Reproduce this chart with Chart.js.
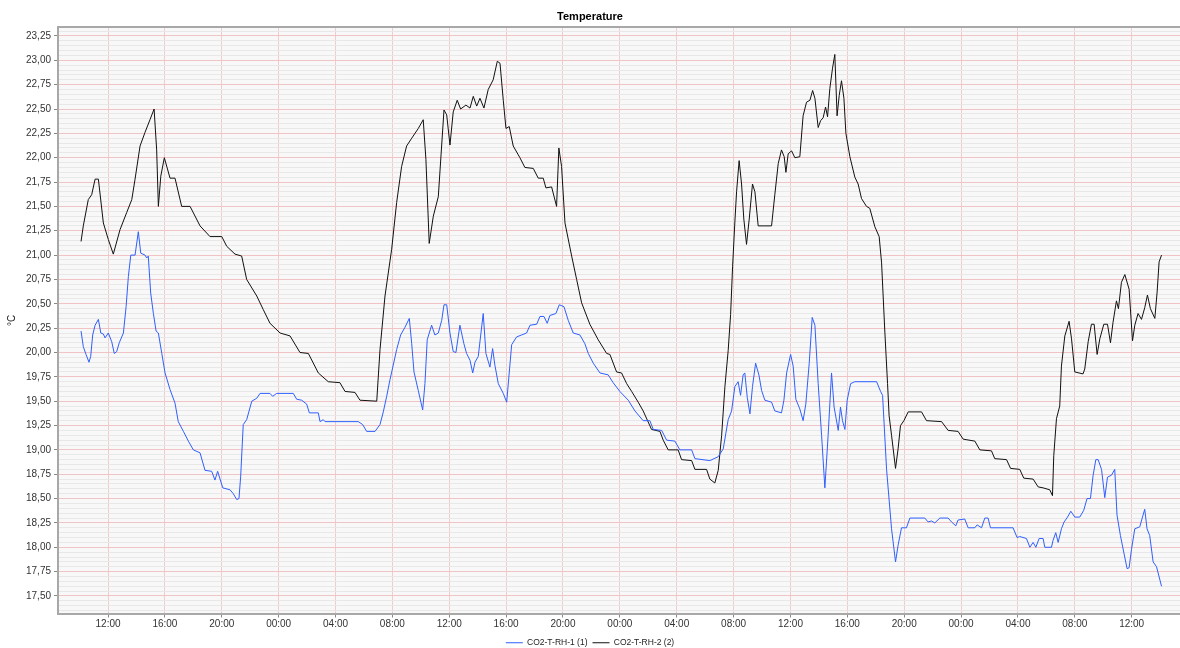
<!DOCTYPE html>
<html>
<head>
<meta charset="utf-8">
<script src="https://cdn.jsdelivr.net/npm/chart.js@4.4.0/dist/chart.umd.min.js"></script>
<style>
  html, body { margin: 0; padding: 0; background: #fff; }
  canvas { display: block; }
</style>
</head>
<body>
<canvas id="grafico" width="1180" height="648"></canvas>
<script>
// horas contadas a partir de 00:00 do primeiro dia
const horas1 = [10.10, 10.26, 10.45, 10.66, 10.78, 10.92, 11.09, 11.32, 11.49, 11.67,
  11.79, 12.02, 12.26, 12.44, 12.61, 12.79, 13.08, 13.27, 13.43, 13.60,
  13.90, 14.13, 14.30, 14.60, 14.72, 14.83, 15.00, 15.19, 15.38, 15.54,
  15.78, 16.01, 16.36, 16.71, 16.94, 17.30, 17.65, 18.00, 18.47, 18.82,
  19.29, 19.52, 19.71, 20.07, 20.58, 20.81, 21.05, 21.21, 21.33, 21.51,
  21.75, 22.11, 22.46, 22.69, 23.39, 23.58, 23.86, 25.03, 25.27, 25.62,
  25.97, 26.16, 26.79, 26.91, 27.14, 27.26, 29.02, 29.60, 29.91, 30.19,
  30.78, 31.13, 31.36, 31.60, 31.83, 32.06, 32.30, 32.58, 32.89, 33.19,
  33.36, 33.52, 33.82, 34.13, 34.29, 34.45, 34.76, 34.99, 35.23, 35.47,
  35.63, 35.82, 36.05, 36.28, 36.47, 36.75, 37.03, 37.22, 37.46, 37.65,
  37.81, 38.04, 38.23, 38.39, 38.58, 38.86, 39.05, 39.21, 39.45, 39.80,
  40.04, 40.39, 40.74, 41.09, 41.44, 41.68, 42.15, 42.38, 42.66, 42.89,
  43.08, 43.50, 43.74, 44.07, 44.37, 44.72, 45.19, 45.54, 45.78, 46.13,
  46.60, 47.18, 47.53, 48.00, 48.59, 49.06, 49.64, 50.11, 50.35, 50.94,
  51.29, 51.87, 52.22, 53.05, 53.28, 54.33, 54.92, 55.27, 55.62, 55.86,
  56.09, 56.32, 56.49, 56.67, 56.79, 56.96, 57.15, 57.33, 57.55, 57.78,
  57.97, 58.20, 58.67, 58.90, 59.37, 59.54, 59.73, 60.01, 60.19, 60.38,
  60.66, 60.89, 61.08, 61.32, 61.53, 61.72, 61.95, 62.19, 62.42, 62.65,
  62.89, 63.07, 63.36, 63.52, 63.66, 63.83, 63.99, 64.23, 64.53, 66.06,
  66.34, 66.48, 66.76, 67.11, 67.39, 67.57, 67.81, 68.16, 68.40, 69.45,
  69.68, 69.92, 70.15, 70.51, 71.09, 71.33, 71.63, 71.79, 72.26, 72.50,
  72.97, 73.13, 73.44, 73.67, 73.90, 74.07, 75.66, 75.94, 76.13, 76.60,
  76.84, 77.07, 77.26, 77.49, 77.77, 77.89, 78.36, 78.47, 78.66, 78.83,
  79.06, 79.25, 79.49, 79.72, 80.00, 80.35, 80.63, 80.86, 81.10, 81.29,
  81.48, 81.64, 81.88, 82.11, 82.30, 82.58, 82.81, 82.97, 83.21, 83.47,
  83.68, 83.82, 83.99, 84.22, 84.57, 84.80, 84.92, 85.08, 85.27, 85.51,
  85.75, 86.10];
const temp1 = [20.22, 20.06, 19.98, 19.90, 19.96, 20.18, 20.28, 20.34, 20.20, 20.19,
  20.15, 20.20, 20.11, 19.99, 20.01, 20.10, 20.20, 20.47, 20.78, 21.00,
  21.00, 21.24, 21.02, 21.00, 20.97, 20.99, 20.61, 20.40, 20.22, 20.20,
  19.99, 19.79, 19.62, 19.48, 19.29, 19.19, 19.09, 19.00, 18.97, 18.79,
  18.78, 18.69, 18.78, 18.61, 18.59, 18.55, 18.49, 18.50, 18.73, 19.26,
  19.31, 19.50, 19.53, 19.58, 19.58, 19.55, 19.58, 19.58, 19.52, 19.51,
  19.47, 19.38, 19.38, 19.29, 19.31, 19.29, 19.29, 19.29, 19.26, 19.19,
  19.19, 19.26, 19.39, 19.55, 19.72, 19.87, 20.03, 20.18, 20.26, 20.35,
  20.09, 19.80, 19.61, 19.41, 19.68, 20.13, 20.28, 20.18, 20.20, 20.33,
  20.49, 20.49, 20.20, 20.01, 20.00, 20.28, 20.09, 19.99, 19.92, 19.79,
  19.90, 19.96, 20.20, 20.40, 19.99, 19.85, 20.04, 19.87, 19.68, 19.58,
  19.49, 20.08, 20.16, 20.18, 20.20, 20.28, 20.29, 20.37, 20.37, 20.30,
  20.38, 20.40, 20.49, 20.47, 20.33, 20.20, 20.18, 20.09, 19.99, 19.89,
  19.79, 19.77, 19.69, 19.60, 19.51, 19.40, 19.30, 19.30, 19.21, 19.20,
  19.10, 19.09, 19.00, 19.00, 18.91, 18.89, 18.93, 19.01, 19.31, 19.40,
  19.65, 19.70, 19.56, 19.77, 19.79, 19.54, 19.37, 19.65, 19.89, 19.77,
  19.61, 19.51, 19.49, 19.40, 19.38, 19.51, 19.79, 19.98, 19.86, 19.52,
  19.42, 19.30, 19.47, 19.89, 20.36, 20.28, 19.68, 19.15, 18.61, 19.15,
  19.79, 19.44, 19.20, 19.44, 19.30, 19.21, 19.51, 19.68, 19.70, 19.70,
  19.60, 19.56, 18.80, 18.19, 17.85, 18.02, 18.20, 18.20, 18.30, 18.30,
  18.26, 18.27, 18.25, 18.30, 18.30, 18.26, 18.22, 18.28, 18.29, 18.20,
  18.20, 18.23, 18.20, 18.30, 18.30, 18.20, 18.20, 18.10, 18.11, 18.09,
  18.00, 18.05, 18.00, 18.09, 18.09, 18.00, 18.00, 18.07, 18.15, 18.05,
  18.19, 18.26, 18.31, 18.37, 18.31, 18.31, 18.38, 18.50, 18.50, 18.74,
  18.90, 18.90, 18.80, 18.51, 18.72, 18.74, 18.80, 18.33, 18.12, 17.93,
  17.78, 17.79, 17.98, 18.19, 18.21, 18.33, 18.39, 18.19, 18.12, 17.85,
  17.80, 17.60];

const horas2 = [10.10, 10.26, 10.61, 10.85, 11.09, 11.32, 11.67, 12.02, 12.37, 12.84,
  13.32, 13.67, 13.90, 14.25, 14.60, 14.95, 15.24, 15.42, 15.54, 15.71,
  15.96, 16.36, 16.71, 17.18, 17.77, 18.47, 19.17, 20.00, 20.35, 20.93,
  21.40, 21.75, 22.46, 22.92, 23.39, 24.10, 24.80, 25.50, 26.09, 26.79,
  27.49, 28.31, 28.67, 29.37, 29.72, 30.90, 31.13, 31.48, 31.95, 32.30,
  32.65, 33.00, 33.36, 33.82, 34.17, 34.36, 34.59, 34.88, 35.23, 35.63,
  35.82, 36.05, 36.28, 36.56, 36.80, 37.17, 37.46, 37.69, 37.93, 38.16,
  38.44, 38.74, 39.09, 39.38, 39.57, 39.80, 39.99, 40.22, 40.50, 40.97,
  41.32, 41.91, 42.26, 42.61, 42.80, 43.20, 43.55, 43.71, 43.90, 44.14,
  44.61, 44.96, 45.31, 45.89, 46.48, 47.07, 47.30, 47.77, 48.12, 48.48,
  48.83, 49.29, 49.64, 50.23, 50.82, 51.05, 51.40, 52.10, 52.34, 53.05,
  53.28, 54.10, 54.33, 54.68, 54.92, 55.16, 55.39, 55.62, 55.79, 55.93,
  56.09, 56.21, 56.39, 56.56, 56.72, 56.91, 57.10, 57.33, 57.50, 57.73,
  58.08, 58.67, 58.90, 59.14, 59.37, 59.56, 59.68, 59.84, 60.08, 60.31,
  60.66, 60.89, 61.13, 61.37, 61.56, 61.72, 61.95, 62.12, 62.30, 62.47,
  62.61, 62.77, 62.96, 63.12, 63.28, 63.43, 63.59, 63.76, 63.90, 64.18,
  64.53, 64.76, 65.00, 65.35, 65.58, 65.94, 66.24, 66.41, 66.64, 66.83,
  66.94, 67.11, 67.39, 67.57, 67.74, 67.98, 68.28, 69.22, 69.57, 70.63,
  71.09, 71.79, 72.15, 72.97, 73.32, 74.14, 74.37, 75.20, 75.48, 76.13,
  76.41, 77.07, 77.42, 77.77, 78.24, 78.43, 78.52, 78.71, 78.94, 79.06,
  79.30, 79.60, 79.77, 80.00, 80.58, 80.70, 80.94, 81.17, 81.36, 81.57,
  81.76, 82.04, 82.30, 82.51, 82.69, 82.93, 83.07, 83.28, 83.52, 83.82,
  84.06, 84.22, 84.45, 84.69, 84.92, 85.11, 85.32, 85.63, 85.79, 85.93,
  86.10];
const temp2 = [21.14, 21.30, 21.57, 21.62, 21.78, 21.78, 21.33, 21.16, 21.01, 21.26,
  21.44, 21.57, 21.78, 22.12, 22.26, 22.39, 22.50, 22.08, 21.50, 21.81,
  22.00, 21.79, 21.79, 21.50, 21.50, 21.30, 21.19, 21.19, 21.09, 21.01,
  20.99, 20.75, 20.58, 20.44, 20.30, 20.20, 20.17, 20.00, 19.99, 19.79,
  19.70, 19.69, 19.60, 19.59, 19.51, 19.50, 20.03, 20.58, 21.06, 21.54,
  21.91, 22.12, 22.20, 22.30, 22.39, 21.98, 21.12, 21.40, 21.60, 22.49,
  22.44, 22.13, 22.47, 22.59, 22.50, 22.54, 22.51, 22.63, 22.53, 22.61,
  22.51, 22.70, 22.80, 22.99, 22.97, 22.59, 22.30, 22.32, 22.12, 22.00,
  21.90, 21.89, 21.79, 21.79, 21.69, 21.70, 21.50, 22.10, 21.91, 21.33,
  20.99, 20.75, 20.51, 20.29, 20.13, 19.99, 19.98, 19.80, 19.79, 19.68,
  19.60, 19.49, 19.40, 19.21, 19.19, 19.10, 19.00, 19.00, 18.90, 18.89,
  18.80, 18.80, 18.70, 18.66, 18.79, 19.15, 19.65, 20.02, 20.39, 20.88,
  21.34, 21.65, 21.97, 21.73, 21.37, 21.11, 21.37, 21.73, 21.65, 21.30,
  21.30, 21.30, 21.62, 21.94, 22.08, 22.01, 21.85, 22.04, 22.07, 22.00,
  22.01, 22.43, 22.57, 22.59, 22.69, 22.61, 22.31, 22.38, 22.41, 22.52,
  22.42, 22.71, 22.92, 23.06, 22.43, 22.64, 22.79, 22.61, 22.25, 22.01,
  21.80, 21.73, 21.58, 21.50, 21.48, 21.29, 21.19, 20.92, 20.21, 19.68,
  19.35, 19.15, 18.81, 19.01, 19.25, 19.30, 19.39, 19.39, 19.30, 19.29,
  19.20, 19.19, 19.11, 19.09, 19.00, 18.99, 18.91, 18.90, 18.81, 18.80,
  18.71, 18.70, 18.62, 18.61, 18.59, 18.53, 18.94, 19.32, 19.45, 19.86,
  20.17, 20.32, 20.14, 19.80, 19.78, 19.83, 20.11, 20.29, 20.29, 19.98,
  20.14, 20.29, 20.29, 20.10, 20.31, 20.53, 20.45, 20.72, 20.80, 20.65,
  20.12, 20.28, 20.40, 20.34, 20.46, 20.59, 20.45, 20.35, 20.62, 20.93,
  21.00];

const rotulos = ['CO2-T-RH-1 (1)', 'CO2-T-RH-2 (2)'];

const pontos = (hs, ts) => hs.map((h, i) => ({ x: h, y: ts[i] }));

// fundo cinza claro da area do grafico
const fundo = {
  id: 'fundo',
  beforeDraw(chart) {
    const { ctx, chartArea: a } = chart;
    ctx.save();
    ctx.fillStyle = '#f8f8f8';
    ctx.fillRect(a.left, a.top, a.right - a.left, a.bottom - a.top);
    ctx.restore();
  }
};

const fonte = { family: '"Liberation Sans", Arial, sans-serif', size: 10 };

const grafico = document.getElementById('grafico').getContext('2d');

const myChart = new Chart(grafico, {
  type: 'line',
  data: {
    datasets: [{
      label: rotulos[0],
      data: pontos(horas1, temp1),
      borderColor: '#2f5fff',
      backgroundColor: '#2f5fff',
      borderWidth: 1,
      pointRadius: 0,
      tension: 0
    }, {
      label: rotulos[1],
      data: pontos(horas2, temp2),
      borderColor: '#111111',
      backgroundColor: '#111111',
      borderWidth: 1,
      pointRadius: 0,
      tension: 0
    }]
  },
  options: {
    responsive: false,
    animation: false,
    devicePixelRatio: 1,
    layout: { padding: { top: 0, left: 0, right: 0, bottom: -9 } },
    plugins: {
      title: {
        display: true,
        text: 'Temperature',
        color: '#000',
        font: { family: fonte.family, size: 11, weight: 'bold' },
        padding: { top: 10, bottom: 4 }
      },
      legend: {
        position: 'bottom',
        labels: {
          usePointStyle: true,
          pointStyle: 'line',
          pointStyleWidth: 17,
          padding: 5,
          color: '#222',
          font: { family: fonte.family, size: 8.5 }
        }
      },
      tooltip: { enabled: false }
    },
    scales: {
      x: {
        type: 'linear',
        min: 8.48,
        max: 87.4,
        ticks: {
          stepSize: 4,
          includeBounds: false,
          autoSkip: false,
          maxRotation: 0,
          padding: 1,
          color: '#333',
          font: fonte,
          callback: v => String(v % 24).padStart(2, '0') + ':00'
        },
        grid: { color: '#f0cccc', tickColor: '#888', tickLength: 4 },
        border: { color: '#a8a8a8', width: 2 },
        afterFit: s => { s.height = 20; }
      },
      xTopo: {
        type: 'linear',
        position: 'top',
        min: 8.48,
        max: 87.4,
        ticks: { display: false },
        grid: { display: false },
        border: { color: '#a8a8a8', width: 2 },
        afterFit: s => { s.height = 0; }
      },
      yMenor: {
        position: 'left',
        min: 17.32,
        max: 23.34,
        z: -1,
        ticks: { display: false, stepSize: 0.05, includeBounds: false },
        grid: { color: '#e8e8e8', drawTicks: false },
        border: { display: false },
        afterFit: s => { s.width = 0; }
      },
      y: {
        position: 'left',
        min: 17.32,
        max: 23.34,
        ticks: {
          stepSize: 0.25,
          includeBounds: false,
          autoSkip: false,
          padding: 3,
          color: '#333',
          font: fonte,
          callback: v => v.toFixed(2).replace('.', ',')
        },
        title: {
          display: true,
          text: '°C',
          color: '#222',
          font: fonte,
          padding: { top: 6, bottom: 0 }
        },
        grid: { color: '#f0c4c4', tickColor: '#888', tickLength: 4 },
        border: { color: '#a8a8a8', width: 2 },
        afterFit: s => { s.width = 58; }
      }
    }
  },
  plugins: [fundo]
});
</script>
</body>
</html>
